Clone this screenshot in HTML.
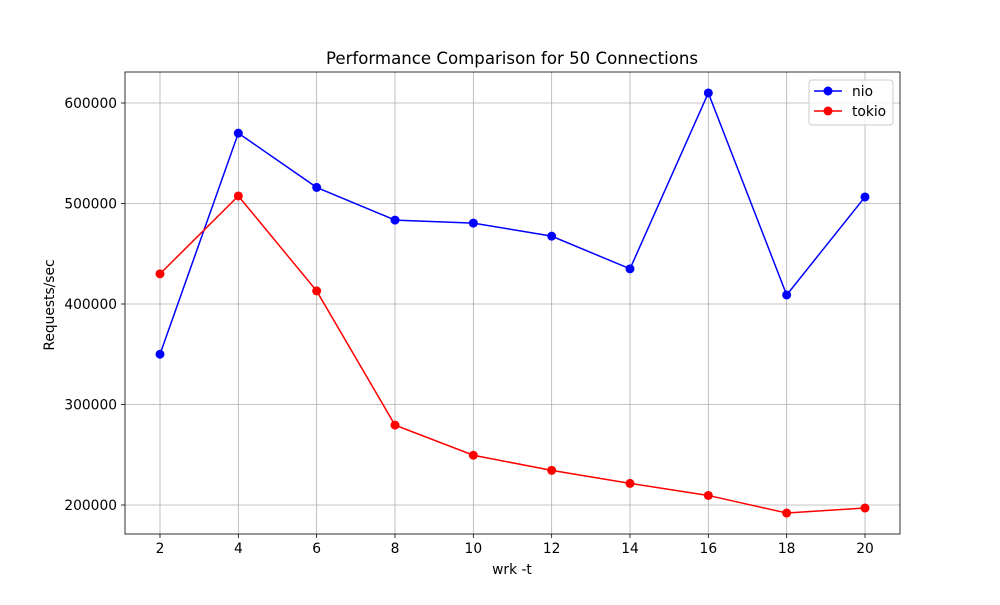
<!DOCTYPE html>
<html><head><meta charset="utf-8"><style>body{margin:0;background:#fff}text{font-family:"DejaVu Sans","Liberation Sans",sans-serif}</style></head>
<body>
<svg id="c" width="1000" height="600" xmlns="http://www.w3.org/2000/svg"></svg>
<script>
const categories=[2,4,6,8,10,12,14,16,18,20];
const nioValues=[350000,570000,516000,483500,480500,467500,435000,610000,409000,506500];
const tokioValues=[430000,507500,413000,279500,249500,234500,221500,209500,192000,197000];
const yTicks=[200000,300000,400000,500000,600000];
const xTicks=[2,4,6,8,10,12,14,16,18,20];
const L=125,R=900,T=72,B=534;
const xs=v=>160+(v-2)*(865-160)/18;
const ys=v=>505-(v-200000)*(505-103)/400000;
const svg=document.getElementById('c');const NS='http://www.w3.org/2000/svg';
function mk(t,a,p){const e=document.createElementNS(NS,t);for(const k in a)e.setAttribute(k,a[k]);(p||svg).appendChild(e);return e;}
const grid=mk('g',{});


xTicks.forEach(v=>{const x=xs(v);mk('line',{x1:x,x2:x,y1:T,y2:B,stroke:'#b0b0b0','stroke-width':0.8},grid);
mk('line',{x1:x,x2:x,y1:B,y2:B+4,stroke:'#000','stroke-width':0.8});
const t=mk('text',{x:x,y:B+19,'text-anchor':'middle','font-size':13.8});t.textContent=v;

});
yTicks.forEach(v=>{const y=ys(v);mk('line',{x1:L,x2:R,y1:y,y2:y,stroke:'#b0b0b0','stroke-width':0.8},grid);
mk('line',{x1:L-4,x2:L,y1:y,y2:y,stroke:'#000','stroke-width':0.8});
const t=mk('text',{x:L-8,y:y+5,'text-anchor':'end','font-size':13.8});t.textContent=v;

});
const fr=mk('rect',{x:L,y:T,width:R-L,height:B-T,fill:'none',stroke:'#000','stroke-width':0.8});


function series(vals,col,name){const g=mk('g',{});


mk('polyline',{points:vals.map((v,i)=>xs(categories[i])+','+ys(v)).join(' '),fill:'none',stroke:col,'stroke-width':1.5},g);
vals.forEach((v,i)=>{const c=mk('circle',{cx:xs(categories[i]),cy:ys(v),r:4.5,fill:col},g);

});}
series(nioValues,'#0000ff','nio');series(tokioValues,'#ff0000','tokio');
const ti=mk('text',{x:512,y:64,'text-anchor':'middle','font-size':16.6});ti.textContent='Performance Comparison for 50 Connections';


const xl=mk('text',{x:512,y:574,'text-anchor':'middle','font-size':13.8});xl.textContent='wrk -t';


const yl=mk('text',{x:54,y:305,'text-anchor':'middle','font-size':13.8,transform:'rotate(-90 54 305)'});yl.textContent='Requests/sec';


const lg=mk('g',{});


mk('rect',{x:809,y:80,width:84,height:45,rx:3,fill:'#fff','fill-opacity':0.8,stroke:'#ccc'},lg);
[['nio','#0000ff',91],['tokio','#ff0000',111]].forEach(([n,c,y])=>{
mk('line',{x1:814,x2:842,y1:y,y2:y,stroke:c,'stroke-width':1.5},lg);
mk('circle',{cx:828,cy:y,r:4.5,fill:c},lg);
const t=mk('text',{x:852,y:y+5,'font-size':13.8},lg);t.textContent=n;

});
</script>
</body></html>
